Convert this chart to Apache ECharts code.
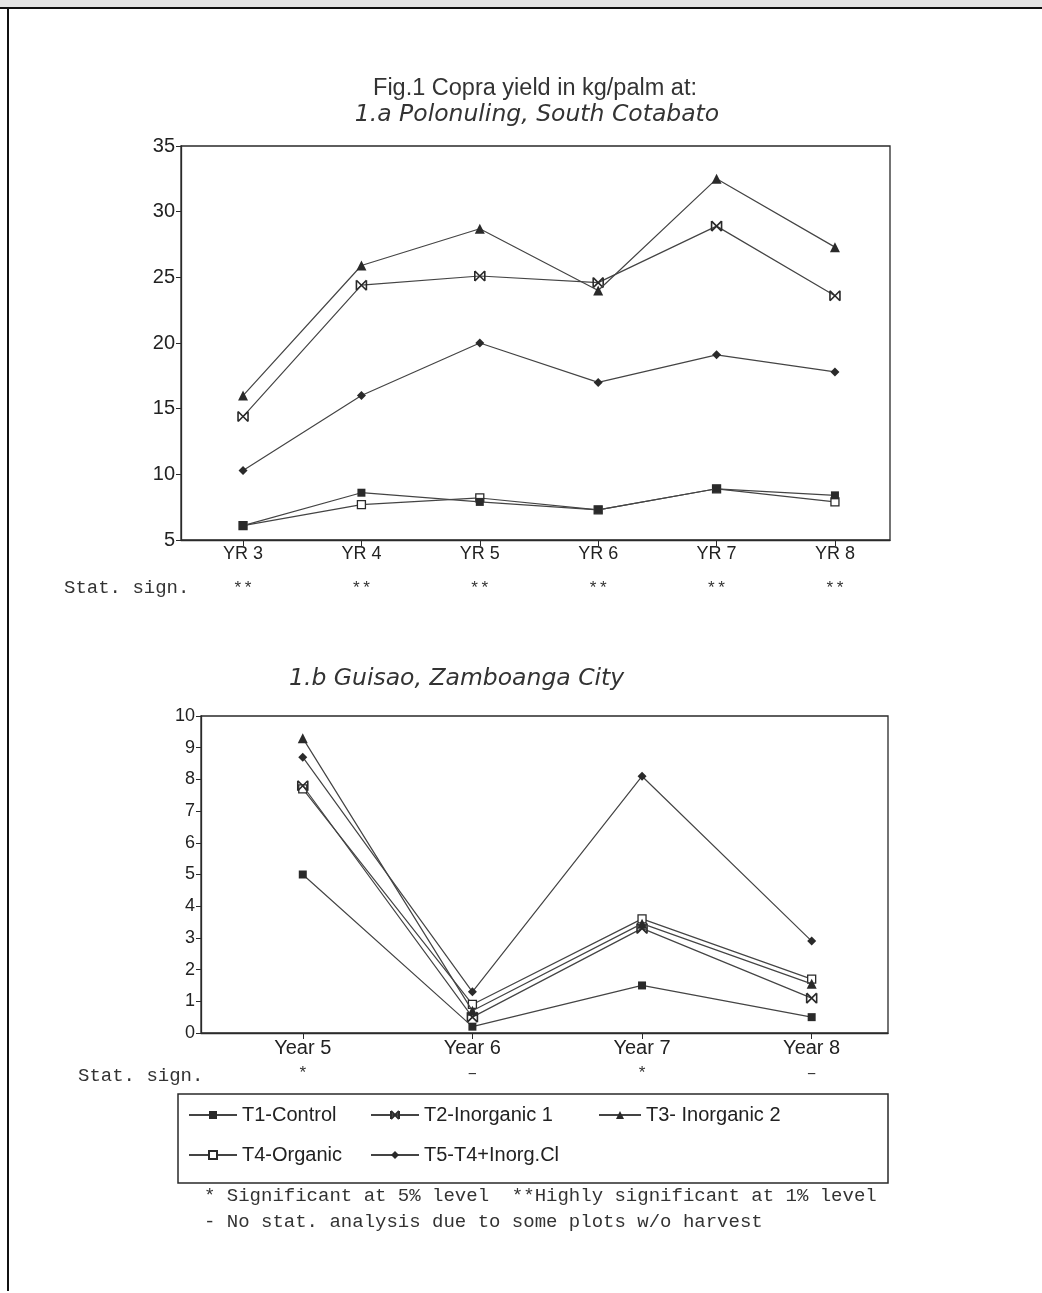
<!DOCTYPE html>
<html>
<head>
<meta charset="utf-8">
<script src="https://cdn.jsdelivr.net/npm/echarts@6/dist/echarts.min.js"></script>
<style>
html,body{margin:0;padding:0;background:#fff;}
#chart{width:1042px;height:1293px;}
</style>
</head>
<body>
<div id="chart"></div>
<script>
// ---- data ----
var seriesNames = ['T1-Control', 'T2-Inorganic 1', 'T3- Inorganic 2', 'T4-Organic', 'T5-T4+Inorg.Cl'];

// 1.a Polonuling, South Cotabato
var topYears = [3, 4, 5, 6, 7, 8];
var topLabels = ['YR 3', 'YR 4', 'YR 5', 'YR 6', 'YR 7', 'YR 8'];
var topStat = ['**', '**', '**', '**', '**', '**'];
var topT1 = [6.1, 8.6, 7.9, 7.3, 8.9, 8.4];
var topT2 = [14.4, 24.4, 25.1, 24.6, 28.9, 23.6];
var topT3 = [16.0, 25.9, 28.7, 24.0, 32.5, 27.3];
var topT4 = [6.1, 7.7, 8.2, 7.3, 8.9, 7.9];
var topT5 = [10.3, 16.0, 20.0, 17.0, 19.1, 17.8];

// 1.b Guisao, Zamboanga City
var botYears = [5, 6, 7, 8];
var botLabels = ['Year 5', 'Year 6', 'Year 7', 'Year 8'];
var botStat = ['*', '\u2013', '*', '\u2013'];
var botT1 = [5.0, 0.2, 1.5, 0.5];
var botT2 = [7.8, 0.5, 3.3, 1.1];
var botT3 = [9.3, 0.7, 3.45, 1.55];
var botT4 = [7.7, 0.9, 3.6, 1.7];
var botT5 = [8.7, 1.3, 8.1, 2.9];

// ---- styling ----
var INK = '#2a2a2a';
var SANS = '"Liberation Sans", Arial, sans-serif';
var MONO = '"Liberation Mono", "DejaVu Sans Mono", monospace';
var xSymbol = 'path://M0,0L10,10M10,0L0,10M0,0L0,10M10,0L10,10';
var symbols = [
  {symbol: 'rect', size: 8, style: {color: INK}, z: 8},
  {symbol: xSymbol, size: 10, style: {color: 'none', borderColor: INK, borderWidth: 1.6}, z: 5},
  {symbol: 'triangle', size: 10, style: {color: INK}, z: 6},
  {symbol: 'rect', size: 8, style: {color: '#fff', borderColor: INK, borderWidth: 1.3}, z: 4},
  {symbol: 'diamond', size: 9, style: {color: INK}, z: 7}
];

function zip(xs, ys) { return xs.map(function (x, i) { return [x, ys[i]]; }); }

var topSets = [topT1, topT2, topT3, topT4, topT5];
var botSets = [botT1, botT2, botT3, botT4, botT5];

var series = [];
function addSeries(sets, years, gi) {
  sets.forEach(function (vals, i) {
    series.push({
      type: 'line',
      name: seriesNames[i],
      xAxisIndex: gi * 2,
      yAxisIndex: gi,
      data: zip(years, vals),
      symbol: symbols[i].symbol,
      symbolSize: symbols[i].size,
      showAllSymbol: true,
      lineStyle: {color: '#444', width: 1.2},
      itemStyle: symbols[i].style,
      emphasis: {disabled: true},
      z: symbols[i].z
    });
  });
}
addSeries(topSets, topYears, 0);
addSeries(botSets, botYears, 1);

function mkX(gi, years, labels, min, max, fs) {
  return {
    type: 'value', gridIndex: gi, min: min, max: max,
    axisLine: {show: true, onZero: false, lineStyle: {color: INK, width: 1.3}},
    axisTick: {show: true, customValues: years, length: 6, lineStyle: {color: INK}},
    splitLine: {show: false},
    axisLabel: {
      customValues: years, margin: 5, color: '#222', fontFamily: SANS, fontSize: fs,
      formatter: function (v) { return labels[years.indexOf(v)]; }
    }
  };
}
function mkStat(gi, years, marks, min, max, margin) {
  return {
    type: 'value', gridIndex: gi, min: min, max: max, position: 'bottom',
    axisLine: {show: false}, axisTick: {show: false}, splitLine: {show: false},
    axisLabel: {
      customValues: years, margin: margin, color: '#333', fontFamily: MONO, fontSize: 17,
      formatter: function (v) { return marks[years.indexOf(v)]; }
    }
  };
}
function mkY(gi, min, max, interval, fs) {
  return {
    type: 'value', gridIndex: gi, min: min, max: max, interval: interval,
    axisLine: {show: true, lineStyle: {color: INK, width: 1.3}},
    axisTick: {show: true, length: 5, lineStyle: {color: INK}},
    splitLine: {show: false},
    axisLabel: {margin: 6, color: '#222', fontFamily: SANS, fontSize: fs}
  };
}

function legendAt(name, left, top, w) {
  return {
    data: [name], left: left, top: top, itemWidth: w, itemHeight: 10, itemGap: 0,
    selectedMode: false, padding: 0,
    textStyle: {fontFamily: SANS, fontSize: 20, color: '#222', padding: [0, 0, 0, 0]}
  };
}

var chart = echarts.init(document.getElementById('chart'), null, {renderer: 'canvas'});
chart.setOption({
  backgroundColor: '#fff',
  animation: false,
  title: [
    {text: 'Fig.1 Copra yield in kg/palm at:', left: 530, top: 72, textAlign: 'center',
     textStyle: {fontFamily: SANS, fontSize: 23.5, fontWeight: 'normal', color: '#333'}},
    {text: '1.a Polonuling, South Cotabato', left: 532, top: 98, textAlign: 'center',
     textStyle: {fontFamily: '"DejaVu Sans", sans-serif', fontStyle: 'oblique', fontSize: 23.5, fontWeight: 'normal', color: '#333'}},
    {text: '1.b Guisao, Zamboanga City', left: 284, top: 662,
     textStyle: {fontFamily: '"DejaVu Sans", sans-serif', fontStyle: 'oblique', fontSize: 23.5, fontWeight: 'normal', color: '#333'}}
  ],
  grid: [
    {left: 181, top: 146, width: 709, height: 394, show: true, borderColor: INK, borderWidth: 1.3, backgroundColor: 'transparent'},
    {left: 201, top: 716, width: 687, height: 317, show: true, borderColor: INK, borderWidth: 1.3, backgroundColor: 'transparent'}
  ],
  xAxis: [
    mkX(0, topYears, topLabels, 2.476, 8.465, 18),
    mkStat(0, topYears, topStat, 2.476, 8.465, 40),
    mkX(1, botYears, botLabels, 4.4, 8.45, 20),
    mkStat(1, botYears, botStat, 4.4, 8.45, 32)
  ],
  yAxis: [mkY(0, 5, 35, 5, 20), mkY(1, 0, 10, 1, 18)],
  legend: [
    legendAt(seriesNames[0], 188, 1105, 48),
    legendAt(seriesNames[1], 370, 1105, 48),
    legendAt(seriesNames[2], 598, 1105, 42),
    legendAt(seriesNames[3], 188, 1145, 48),
    legendAt(seriesNames[4], 370, 1145, 48)
  ],
  graphic: [
    {type: 'rect', shape: {x: 0, y: 0, width: 1042, height: 7}, style: {fill: '#e4e4e4'}},
    {type: 'line', shape: {x1: 0, y1: 8, x2: 1042, y2: 8}, style: {stroke: '#111', lineWidth: 2}},
    {type: 'line', shape: {x1: 8, y1: 8, x2: 8, y2: 1291}, style: {stroke: '#111', lineWidth: 2}},
    {type: 'rect', shape: {x: 178, y: 1094, width: 710, height: 89}, style: {fill: 'none', stroke: INK, lineWidth: 1.5}},
    {type: 'text', left: 64, top: 578, style: {text: 'Stat. sign.', font: '19px ' + MONO, fill: '#333'}},
    {type: 'text', left: 78, top: 1066, style: {text: 'Stat. sign.', font: '19px ' + MONO, fill: '#333'}},
    {type: 'text', left: 204, top: 1186, style: {text: '* Significant at 5% level  **Highly significant at 1% level', font: '19px ' + MONO, fill: '#333'}},
    {type: 'text', left: 204, top: 1212, style: {text: '- No stat. analysis due to some plots w/o harvest', font: '19px ' + MONO, fill: '#333'}}
  ],
  series: series
});
</script>
</body>
</html>
